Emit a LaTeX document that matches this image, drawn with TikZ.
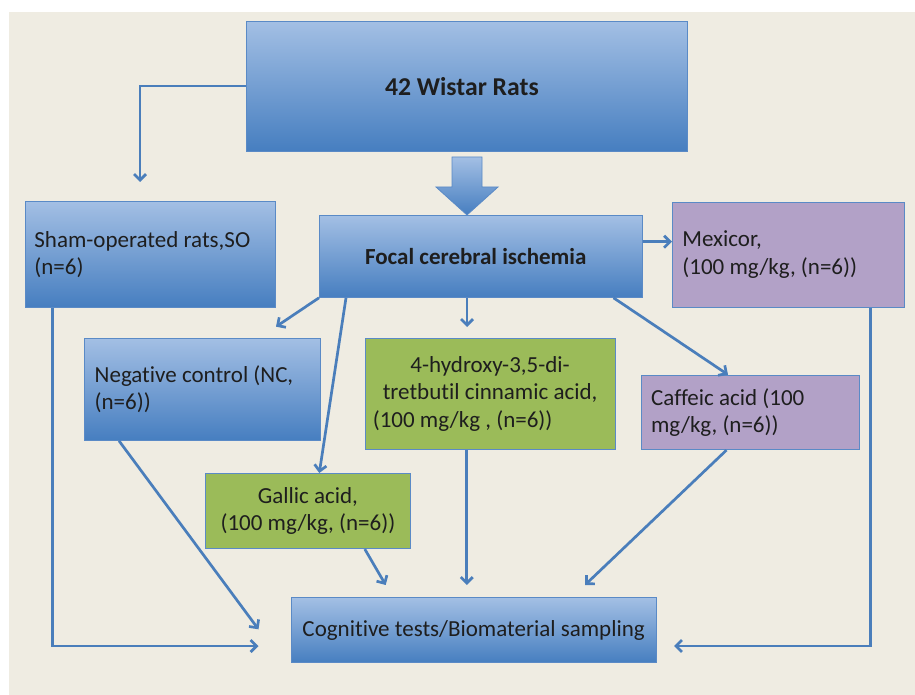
\documentclass[tikz,border=0pt]{standalone}
\usepackage{fontspec}
\setmainfont{Carlito}[Ligatures={NoCommon,NoContextual},Contextuals={NoAlternate}]
\usetikzlibrary{arrows.meta,calc}
\definecolor{bg}{RGB}{239,236,226}
\definecolor{gtop}{RGB}{163,191,228}
\definecolor{gmid}{RGB}{128,163,214}
\definecolor{gbot}{RGB}{70,126,192}
\definecolor{bord}{RGB}{90,138,198}
\definecolor{grn}{RGB}{155,187,89}
\definecolor{prp}{RGB}{178,161,199}
\definecolor{arrc}{RGB}{74,126,187}
\definecolor{txt}{RGB}{30,30,30}
\newcommand{\fsz}{\fontsize{23}{27.5}\selectfont}
\newcommand{\fbig}{\fontsize{25.7}{30}\selectfont}
\tikzset{
  box/.style={draw=bord, line width=0.8pt, inner sep=0pt, anchor=north west, font=\fsz, text=txt},
  bluebox/.style={box, top color=gtop, middle color=gmid, bottom color=gbot},
  greenbox/.style={box, fill=grn},
  purplebox/.style={box, fill=prp},
  conn/.style={line width=2.7pt, draw=arrc},
  arr/.style={conn, -{Straight Barb[length=6pt,width=12pt]}},
}
\begin{document}
\begin{tikzpicture}[x=1pt,y=-1pt]
\useasboundingbox (0,0) rectangle (915,695);
\fill[white] (0,0) rectangle (915,695);
\fill[bg] (9,12) rectangle (915,695);

% boxes
\node[bluebox, minimum width=441pt, minimum height=130pt, font=\fbig\bfseries, align=flush center] (wistar) at (246,20.7) {\hspace*{-10pt}42 Wistar Rats};
\node[bluebox, minimum width=322.7pt, minimum height=82pt, font=\fsz\bfseries, align=flush center] (focal) at (319,215) {\hspace*{-10pt}Focal cerebral ischemia};
\node[bluebox, minimum width=250pt, minimum height=106pt, text width=232pt, align=flush left] (sham) at (25,201) {Sham-operated rats,SO\\(n=6)};
\node[purplebox, minimum width=231.7pt, minimum height=105.3pt, text width=211.7pt, align=flush left] (mexicor) at (672,201.7) {Mexicor,\\(100 mg/kg, (n=6))};
\node[bluebox, minimum width=235.4pt, minimum height=102.3pt, text width=215.4pt, align=flush left] (nc) at (84.3,337.7) {Negative control (NC,\\(n=6))};
\node[greenbox, minimum width=250pt, minimum height=111.3pt, text width=240pt, align=flush center] (hyd) at (364.7,337.7) {4-hydroxy-3,5-di-\\tretbutil cinnamic acid,\\\mbox{(100 mg/kg , (n=6))\hspace{55pt}}};
\node[purplebox, minimum width=218pt, minimum height=74.6pt, text width=198pt, align=flush left] (caffeic) at (640.7,374.7) {Caffeic acid (100\\mg/kg, (n=6))};
\node[greenbox, minimum width=204.2pt, minimum height=75.3pt, text width=194pt, align=flush center] (gallic) at (205.4,473) {Gallic acid,\\(100 mg/kg, (n=6))};
\node[bluebox, minimum width=365.3pt, minimum height=65pt, align=flush center] (cog) at (290.6,597.3) {Cognitive tests/Biomaterial sampling};

% big block arrow
\shade[top color=gtop, bottom color=gbot, draw=bord, line width=0.8pt]
  (452,157) -- (482,157) -- (482,187) -- (498,187) -- (467,215) -- (436,187) -- (452,187) -- cycle;

% end coordinates
\coordinate (e1) at (140,182);
\coordinate (y2) at (0,241.7);
\coordinate (e3) at (276,326.7);
\coordinate (e4) at (319.3,473);
\coordinate (e5) at (467,327);
\coordinate (e6) at (728,374.7);
\coordinate (e7) at (258.5,646);
\coordinate (e8) at (674,646);
\coordinate (e9) at (258.5,629.3);
\coordinate (e10) at (385.7,585);
\coordinate (e11) at (466.8,585);
\coordinate (e12) at (585,585);

% connectors
\draw[arr] (wistar.west) -| (e1);
\draw[arr] (focal.east |- y2) -- (mexicor.west |- y2);
\draw[arr] (focal.south west) -- (e3);
\draw[arr] ([xshift=27pt]focal.south west) -- (e4);
\draw[arr] (focal.south -| e5) -- (e5);
\draw[arr] ([xshift=-29pt]focal.south east) -- (e6);
\draw[arr] ([xshift=27.5pt]sham.south west) |- (e7);
\draw[arr] ([xshift=-34.3pt]mexicor.south east) |- (e8);
\draw[arr] ([xshift=34.7pt]nc.south west) -- (e9);
\draw[arr] ([xshift=-45.6pt]gallic.south east) -- (e10);
\draw[arr] (hyd.south -| e11) -- (e11);
\draw[arr] ([xshift=85.8pt]caffeic.south west) -- (e12);
\end{tikzpicture}
\end{document}
